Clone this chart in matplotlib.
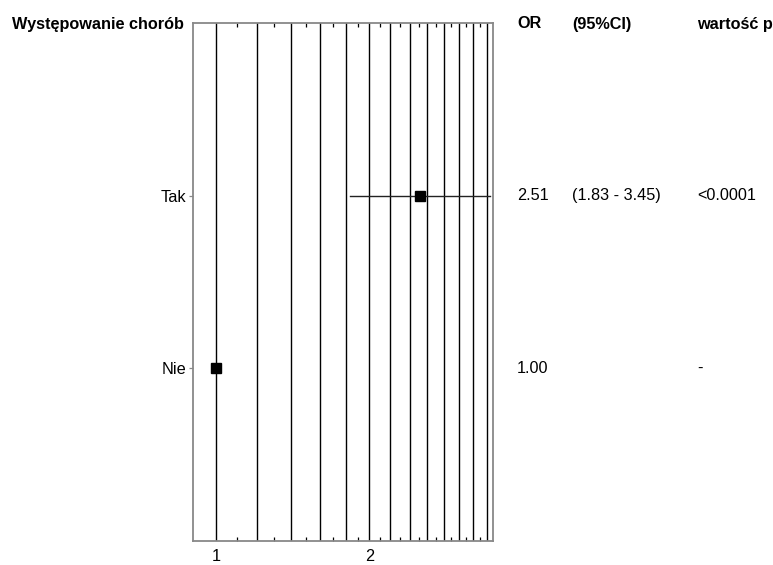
import numpy as np
import matplotlib.pyplot as plt
from matplotlib.ticker import FixedLocator, FixedFormatter, NullFormatter

plt.rcParams["font.family"] = ["Liberation Sans", "DejaVu Sans"]

categories = ["Nie", "Tak"]
odds_ratio = [1.00, 2.51]
ci_low = [None, 1.83]
ci_high = [None, 3.45]
or_text = ["1.00", "2.51"]
ci_text = ["", "(1.83 - 3.45)"]
p_text = ["-", "<0.0001"]
grid_ticks = [1.0, 1.2, 1.4, 1.6, 1.8, 2.0, 2.2, 2.4, 2.6, 2.8, 3.0, 3.2, 3.4]
minor_ticks = [1.1, 1.3, 1.5, 1.7, 1.9, 2.1, 2.3, 2.5, 2.7, 2.9, 3.1, 3.3]
labeled_ticks = [1, 2]

FS = 11.7

fig = plt.figure(figsize=(7.73, 5.65), dpi=100)
ax = fig.add_axes([193 / 773, 1 - 541 / 565, 300 / 773, 518 / 565])

ax.set_xscale("log")
ax.set_xlim(0.9, 3.5)
ax.set_ylim(0, 3)
ypos = np.arange(1, len(categories) + 1)

for g in grid_ticks:
    ax.axvline(g, color="black", linewidth=1.0, zorder=1)

for i, y in enumerate(ypos):
    if ci_low[i] is not None:
        ax.plot([ci_low[i], ci_high[i]], [y, y], color="#222222", linewidth=1.0, zorder=2)
    ax.plot(odds_ratio[i], y, marker="s", color="black", markersize=6.8, zorder=3)

ax.xaxis.set_major_locator(FixedLocator(labeled_ticks))
ax.xaxis.set_major_formatter(FixedFormatter([str(t) for t in labeled_ticks]))
ax.xaxis.set_minor_locator(FixedLocator(minor_ticks))
ax.xaxis.set_minor_formatter(NullFormatter())
ax.tick_params(axis="x", which="both", direction="in", top=True, length=3, width=0.9,
               color="black", labelsize=FS, pad=6)
ax.tick_params(axis="x", which="major", length=0)

ax.set_yticks(ypos)
ax.set_yticklabels(categories, fontsize=FS)
ax.tick_params(axis="y", direction="out", length=3, width=0.9, color="#888888", pad=2)

for s in ["left", "top", "bottom", "right"]:
    ax.spines[s].set_color("#888888")
    ax.spines[s].set_linewidth(1.3)

header_y = 1 - 24 / 565
fig.text(12 / 773, header_y, "Występowanie chorób", fontsize=FS, fontweight="bold",
         ha="left", va="center")
fig.text(517 / 773, header_y, "OR", fontsize=FS, fontweight="bold", ha="left", va="center")
fig.text(572 / 773, header_y, "(95%CI)", fontsize=FS, fontweight="bold", ha="left", va="center")
fig.text(697 / 773, header_y, "wartość p", fontsize=FS, fontweight="bold", ha="left", va="center")

for i, y in enumerate(ypos):
    yy = ax.transData.transform((1, y))[1]
    yf = fig.transFigure.inverted().transform((0, yy))[1]
    fig.text(517 / 773, yf, or_text[i], fontsize=FS, ha="left", va="center")
    fig.text(572 / 773, yf, ci_text[i], fontsize=FS, ha="left", va="center")
    fig.text(697 / 773, yf, p_text[i], fontsize=FS, ha="left", va="center")

fig.savefig("out.png", dpi=100)
